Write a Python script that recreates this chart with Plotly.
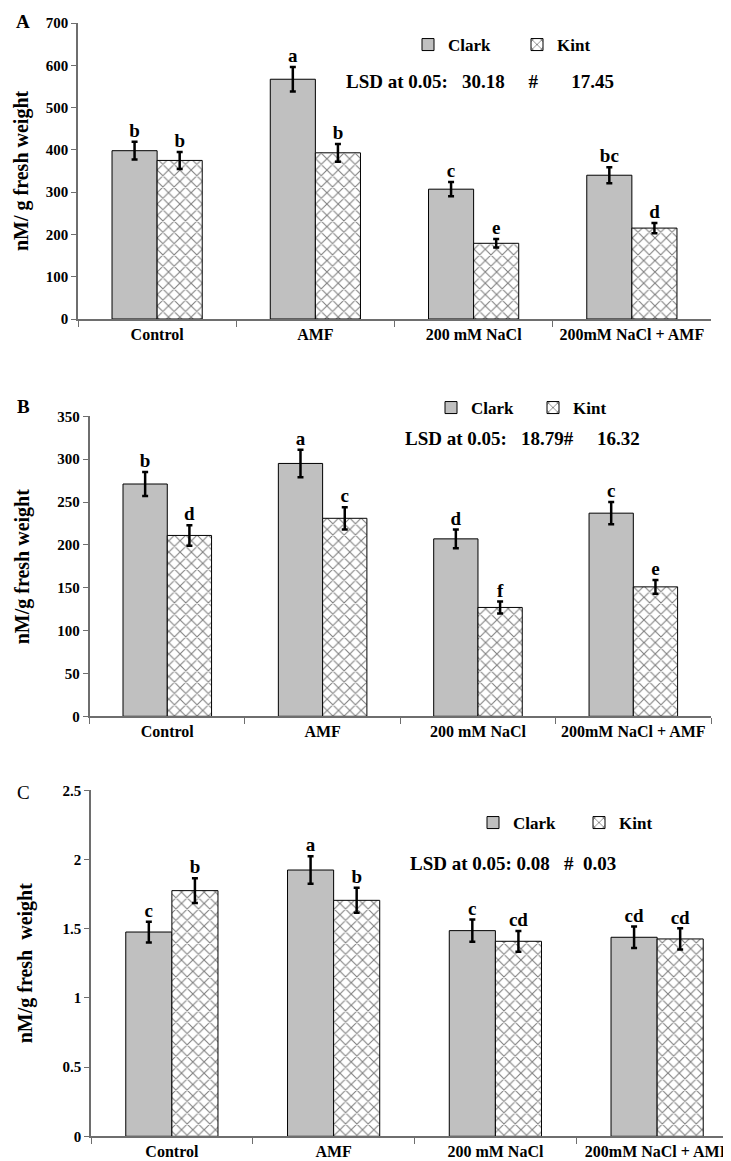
import plotly.graph_objects as go

W, H = 731, 1161
FONT = "Liberation Serif"

treatments = ["Control", "AMF", "200 mM NaCl", "200mM NaCl + AMF"]

# Panel A
clark_a = [398, 567, 307, 340]
clark_a_err = [21, 29, 17, 19]
kint_a = [375, 393, 179, 215]
kint_a_err = [20, 21, 10, 12]
clark_a_lbl = ["b", "a", "c", "bc"]
kint_a_lbl = ["b", "b", "e", "d"]

# Panel B
clark_b = [271, 295, 207, 237]
clark_b_err = [14, 16, 11, 13]
kint_b = [211, 231, 127, 151]
kint_b_err = [12, 13, 7, 8]
clark_b_lbl = ["b", "a", "d", "c"]
kint_b_lbl = ["d", "c", "f", "e"]

# Panel C
clark_c = [1.476, 1.924, 1.486, 1.438]
clark_c_err = [0.075, 0.10, 0.08, 0.077]
kint_c = [1.775, 1.705, 1.409, 1.426]
kint_c_err = [0.09, 0.09, 0.075, 0.077]
clark_c_lbl = ["c", "a", "c", "cd"]
kint_c_lbl = ["b", "b", "cd", "cd"]

panels = [
    dict(clark=clark_a, ce=clark_a_err, kint=kint_a, ke=kint_a_err, cl=clark_a_lbl, kl=kint_a_lbl,
         rng=[0, 700], dt=100, title="nM/ g fresh weight", lsd="LSD at 0.05:\u00a0\u00a0 30.18\u00a0\u00a0\u00a0\u00a0 #\u00a0\u00a0\u00a0\u00a0\u00a0\u00a0 17.45",
         tag="A", tagbold=True),
    dict(clark=clark_b, ce=clark_b_err, kint=kint_b, ke=kint_b_err, cl=clark_b_lbl, kl=kint_b_lbl,
         rng=[0, 350], dt=50, title="nM/g fresh weight", lsd="LSD at 0.05:\u00a0\u00a0 18.79#\u00a0\u00a0\u00a0\u00a0 16.32",
         tag="B", tagbold=True),
    dict(clark=clark_c, ce=clark_c_err, kint=kint_c, ke=kint_c_err, cl=clark_c_lbl, kl=kint_c_lbl,
         rng=[0, 2.5], dt=0.5, title="nM/g fresh\u00a0\u00a0weight", lsd="LSD at 0.05: 0.08\u00a0\u00a0 #\u00a0 0.03",
         tag="C", tagbold=False),
]

# pixel layout of each panel: (x0, x1, y_top, y_bottom)
boxes = [(70, 703, 15, 311), (81.6, 703, 408.3, 708.3), (83, 730, 782.3, 1128.3)]
legend_pos = [(400, 37, 64), (423, 400, 57), (465, 815, 61)]
lsd_pos = [(336, 73), (395, 430), (400, 855)]
title_x = [14, 14, 17]
tag_pos = [(15, 14), (15, 398), (15, 784)]

fig = go.Figure()
annotations = []
layout = {}

for i, p in enumerate(panels):
    n = "" if i == 0 else str(i + 1)
    xa, ya = "x" + n, "y" + n
    leg = "legend" + n
    fig.add_trace(go.Bar(
        x=treatments, y=p["clark"], name="Clark", xaxis=xa, yaxis=ya, legend=leg,
        offsetgroup="clark",
        marker=dict(color="#c0c0c0", line=dict(color="black", width=1)),
        error_y=dict(type="data", array=p["ce"], color="black", thickness=2.5, width=3),
    ))
    fig.add_trace(go.Bar(
        x=treatments, y=p["kint"], name="Kint", xaxis=xa, yaxis=ya, legend=leg,
        offsetgroup="kint",
        marker=dict(color="white", line=dict(color="black", width=1),
                    pattern=dict(shape="x", fgcolor="black", bgcolor="white", size=8, solidity=0.25)),
        error_y=dict(type="data", array=p["ke"], color="black", thickness=2.5, width=3),
    ))
    for vals, errs, lbls, grp in [(p["clark"], p["ce"], p["cl"], "clark"), (p["kint"], p["ke"], p["kl"], "kint")]:
        fig.add_trace(go.Scatter(
            x=treatments, y=[v + e for v, e in zip(vals, errs)], mode="text", text=lbls,
            textposition="top center", offsetgroup=grp, xaxis=xa, yaxis=ya, showlegend=False,
            textfont=dict(family=FONT, size=19, weight="bold", color="black"), hoverinfo="skip",
        ))

    x0, x1, yt, yb = boxes[i]
    layout["xaxis" + n] = dict(
        domain=[x0 / W, x1 / W], anchor=ya, type="category", automargin=False,
        showline=True, linecolor="#6e6e6e", linewidth=1.5,
        ticks="outside", tickson="boundaries", ticklen=6, tickcolor="#6e6e6e",
        tickfont=dict(family=FONT, size=16, weight="bold", color="black"),
        showgrid=False, zeroline=False,
    )
    layout["yaxis" + n] = dict(
        domain=[1 - yb / H, 1 - yt / H], anchor=xa, range=p["rng"], dtick=p["dt"], automargin=False,
        showline=True, linecolor="#6e6e6e", linewidth=1.5,
        ticks="outside", ticklen=5, tickcolor="#6e6e6e",
        tickfont=dict(family=FONT, size=15, weight="bold", color="black"),
        showgrid=False, zeroline=False,
    )
    lx, ly, ew = legend_pos[i]
    layout[leg] = dict(
        orientation="h", x=lx / W, y=1 - ly / H, xanchor="left", yanchor="middle",
        entrywidth=ew, entrywidthmode="pixels", bgcolor="rgba(0,0,0,0)",
        font=dict(family=FONT, size=17, weight="bold", color="black"),
    )
    sx, sy = lsd_pos[i]
    annotations.append(dict(
        text=p["lsd"], x=sx / W, y=1 - sy / H, xref="paper", yref="paper",
        xanchor="left", yanchor="middle", showarrow=False,
        font=dict(family=FONT, size=19, weight="bold", color="black"),
    ))
    annotations.append(dict(
        text=p["title"], x=title_x[i] / W, y=1 - (yt + yb) / 2 / H, xref="paper", yref="paper",
        xanchor="center", yanchor="middle", textangle=-90, showarrow=False,
        font=dict(family=FONT, size=20, weight="bold", color="black"),
    ))
    tx, ty = tag_pos[i]
    annotations.append(dict(
        text=p["tag"], x=tx / W, y=1 - ty / H, xref="paper", yref="paper",
        xanchor="center", yanchor="middle", showarrow=False,
        font=dict(family=FONT, size=19, weight="bold" if p["tagbold"] else "normal", color="black"),
    ))

fig.update_layout(
    width=W, height=H, margin=dict(l=0, r=0, t=0, b=0, autoexpand=False),
    paper_bgcolor="white", plot_bgcolor="white",
    barmode="group", bargap=0.43, bargroupgap=0,
    scattermode="group", scattergap=0.43,
    annotations=annotations, **layout,
)

fig.write_html("out.html")
